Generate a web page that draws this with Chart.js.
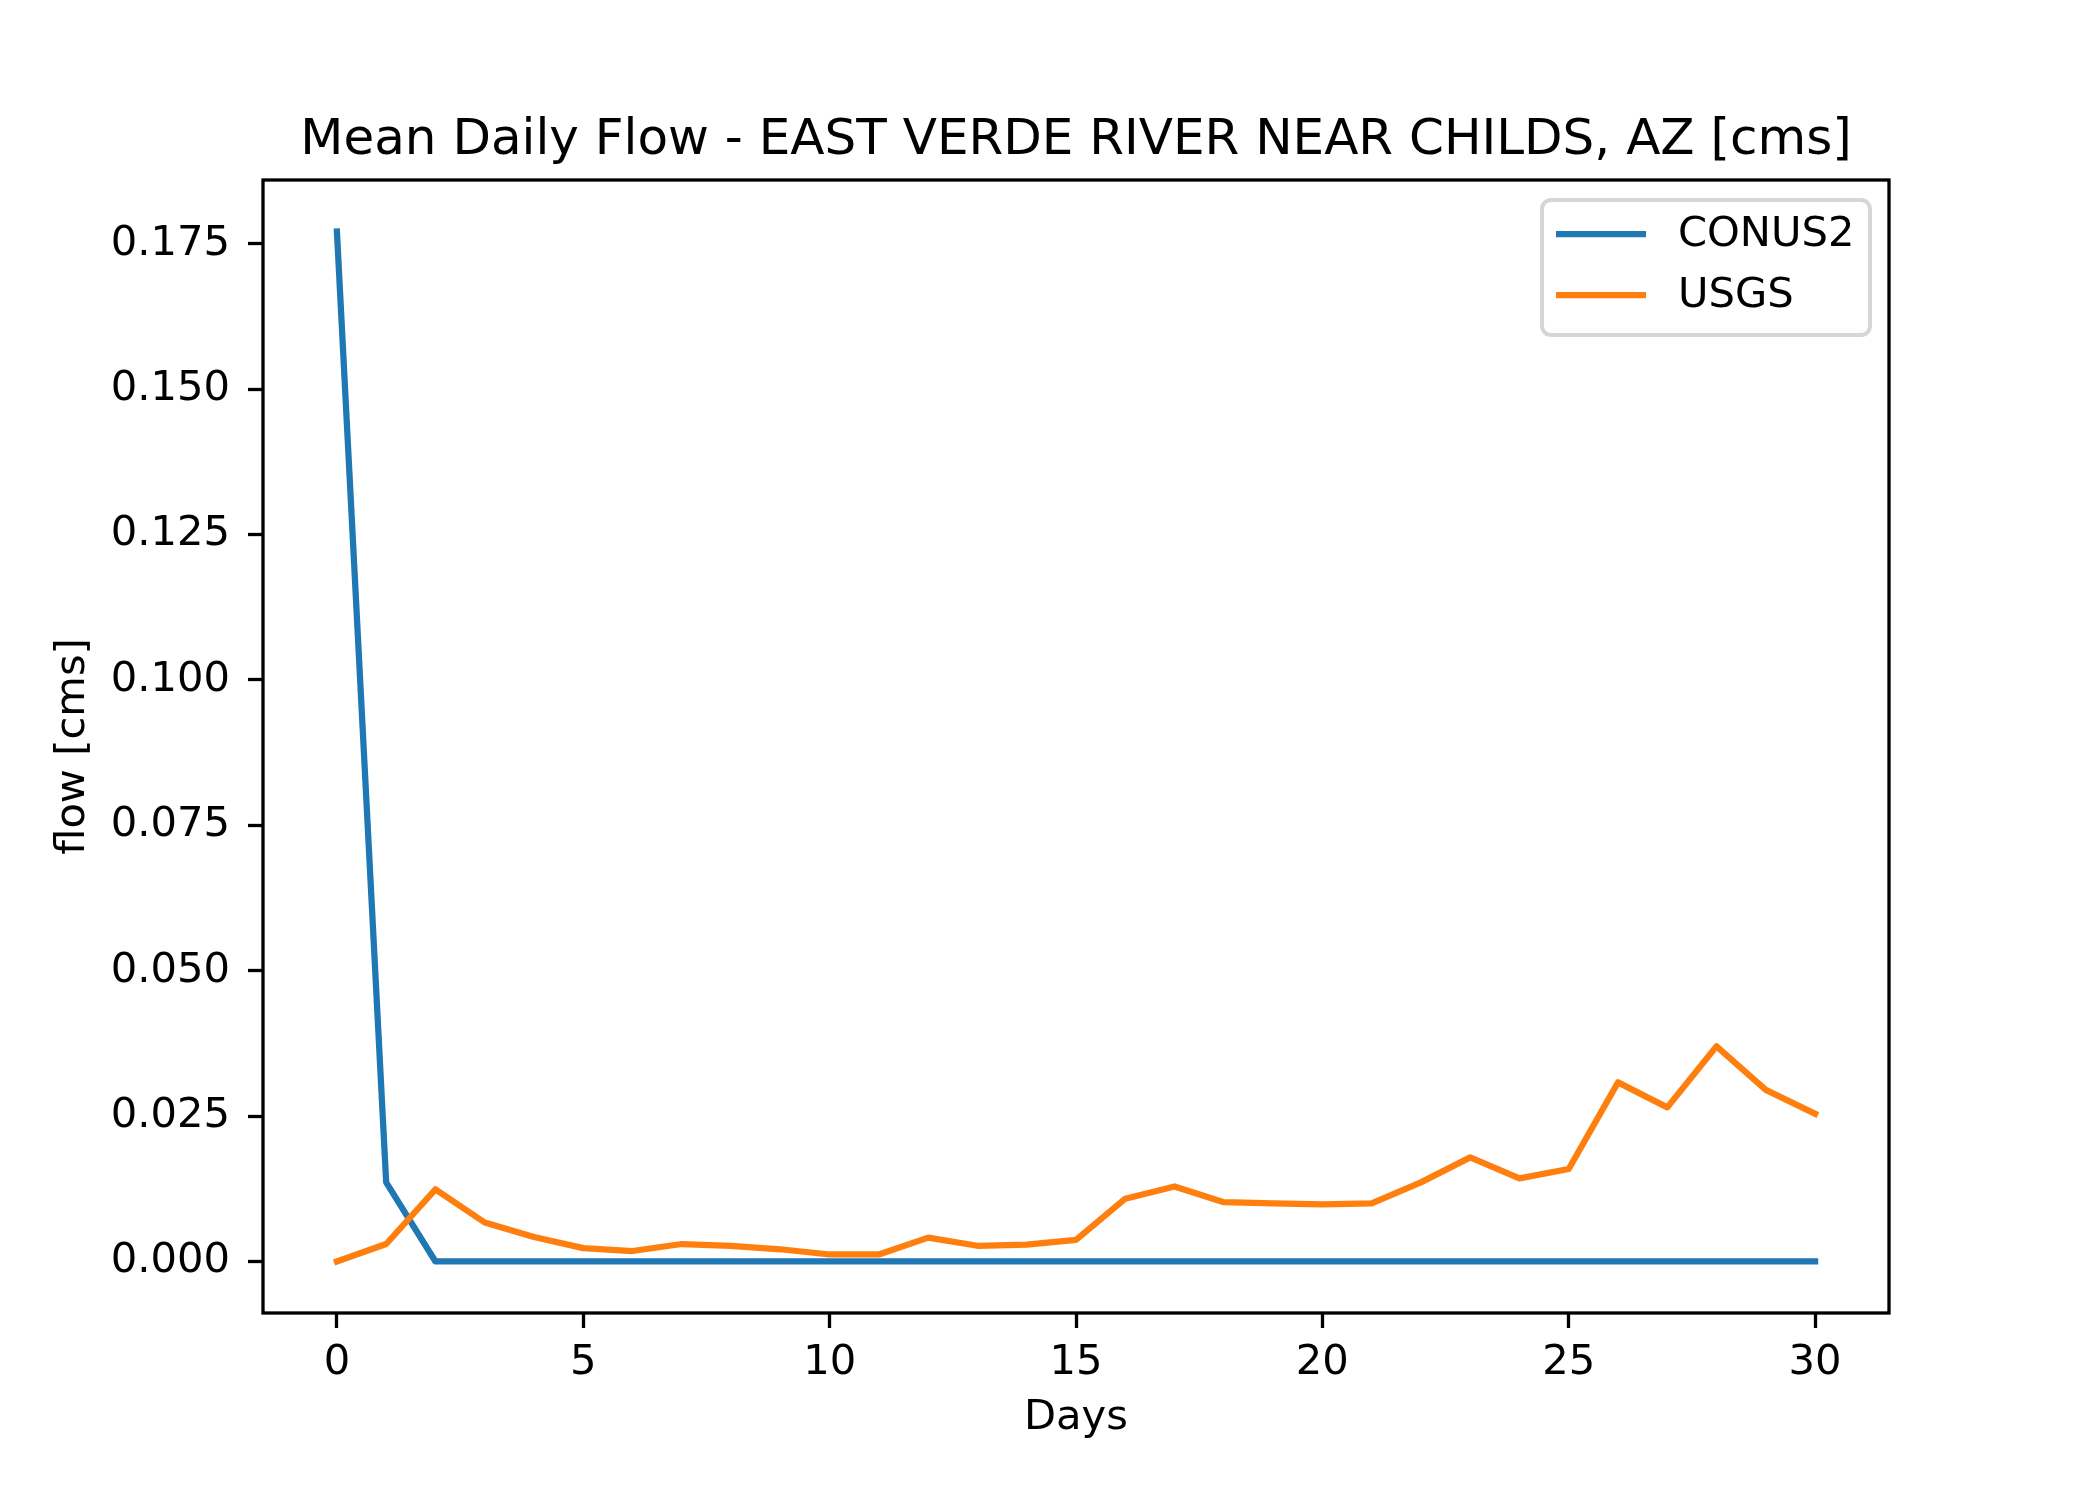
<!DOCTYPE html>
<html>
<head>
<meta charset="utf-8">
<script src="https://cdn.jsdelivr.net/npm/chart.js@4"></script>
<style>
  html, body { margin: 0; padding: 0; background: #fff; }
  #wrap { width: 2100px; height: 1500px; }
</style>
</head>
<body>
<div id="wrap"><canvas id="myChart1" width="2100" height="1500"></canvas></div>
<script>
// values
var days = [0, 1, 2, 3, 4, 5, 6, 7, 8, 9, 10, 11, 12, 13, 14, 15, 16, 17, 18, 19, 20, 21, 22, 23, 24, 25, 26, 27, 28, 29, 30];
var conus2 = [0.1771, 0.0136, 0, 0, 0, 0, 0, 0, 0, 0, 0, 0, 0, 0, 0, 0, 0, 0, 0, 0, 0, 0, 0, 0, 0, 0, 0, 0, 0, 0, 0];
var usgs = [0, 0.0030, 0.0124, 0.0067, 0.0042, 0.0023, 0.0018, 0.0030, 0.0027, 0.0021, 0.0012, 0.0012, 0.0041, 0.0027, 0.0029, 0.0037,
            0.0108, 0.0129, 0.0102, 0.0100, 0.0098, 0.0100, 0.0136, 0.0179, 0.0143, 0.0159, 0.0308, 0.0265, 0.0370, 0.0295, 0.0254];
var xTicks = [0, 5, 10, 15, 20, 25, 30];
var yTicks = [0, 0.025, 0.05, 0.075, 0.1, 0.125, 0.15, 0.175];
var yTickLabels = ['0.000', '0.025', '0.050', '0.075', '0.100', '0.125', '0.150', '0.175'];
var seriesNames = ['CONUS2', 'USGS'];
var seriesColors = ['#1f77b4', '#ff7f0e'];

var FONT = "'DejaVu Sans', sans-serif";
var fs = 41.67;

function toPoints(ys) {
    return days.map(function (d, i) { return {x: d, y: ys[i]}; });
}

// box round the plot and the legend in its top right corner
var framePlugin = {
    id: 'frame',
    afterDatasetsDraw: function (chart) {
        var ctx = chart.ctx, a = chart.chartArea;
        ctx.save();
        ctx.strokeStyle = '#000';
        ctx.lineWidth = 3.3;
        ctx.strokeRect(a.left, a.top, a.right - a.left, a.bottom - a.top);

        // legend
        var bx = 1542, by = 200, bw = 328, bh = 135, r = 9;
        ctx.beginPath();
        ctx.moveTo(bx + r, by);
        ctx.arcTo(bx + bw, by, bx + bw, by + bh, r);
        ctx.arcTo(bx + bw, by + bh, bx, by + bh, r);
        ctx.arcTo(bx, by + bh, bx, by, r);
        ctx.arcTo(bx, by, bx + bw, by, r);
        ctx.closePath();
        ctx.fillStyle = 'rgba(255,255,255,0.8)';
        ctx.fill();
        ctx.strokeStyle = 'rgba(204,204,204,0.8)';
        ctx.lineWidth = 4;
        ctx.stroke();

        ctx.font = fs + 'px ' + FONT;
        ctx.textBaseline = 'middle';
        ctx.textAlign = 'left';
        chart.data.datasets.forEach(function (ds, i) {
            var ly = 234 + i * 61;
            ctx.strokeStyle = ds.borderColor;
            ctx.lineWidth = 6.25;
            ctx.lineCap = 'butt';
            ctx.beginPath();
            ctx.moveTo(1556, ly);
            ctx.lineTo(1646, ly);
            ctx.stroke();
            ctx.fillStyle = '#000';
            ctx.fillText(ds.label, 1678, ly + 1);
        });
        ctx.restore();
    }
};

var chart = new Chart("myChart1", {
    type: "line",
    data: {
        datasets: [{
            label: seriesNames[0],
            borderColor: seriesColors[0],
            backgroundColor: 'rgba(0, 0, 0, 0)',
            data: toPoints(conus2),
            order: 1
        }, {
            label: seriesNames[1],
            borderColor: seriesColors[1],
            backgroundColor: 'rgba(0, 0, 0, 0)',
            data: toPoints(usgs),
            order: 0
        }]
    },
    options: {
        responsive: false,
        animation: false,
        devicePixelRatio: 1,
        elements: {
            point: { radius: 0, hoverRadius: 0 },
            line: { borderWidth: 6.25, tension: 0, borderCapStyle: 'square', borderJoinStyle: 'round', fill: false }
        },
        layout: { padding: { top: 0, right: 211, bottom: 0, left: 0 } },
        plugins: {
            legend: { display: false },
            tooltip: { enabled: false },
            title: {
                display: true,
                fullSize: false,
                text: 'Mean Daily Flow - EAST VERDE RIVER NEAR CHILDS, AZ [cms]',
                color: '#000',
                font: { family: FONT, size: 50, weight: 'normal', lineHeight: 1.2 },
                padding: { top: 111, bottom: 9 }
            }
        },
        scales: {
            x: {
                type: 'linear',
                min: -1.5,
                max: 31.5,
                afterBuildTicks: function (s) { s.ticks = xTicks.map(function (v) { return {value: v}; }); },
                afterFit: function (s) { s.height = 187; },
                grid: { drawOnChartArea: false, drawTicks: true, tickLength: 15, tickWidth: 3.3, tickColor: '#000' },
                border: { display: false },
                ticks: {
                    color: '#000',
                    font: { family: FONT, size: fs },
                    padding: 10,
                    maxRotation: 0,
                    autoSkip: false,
                    callback: function (v) { return String(v); }
                },
                title: {
                    display: true,
                    text: 'Days',
                    color: '#000',
                    font: { family: FONT, size: fs, lineHeight: 1.2 },
                    padding: { top: 0, bottom: 57 }
                }
            },
            y: {
                type: 'linear',
                min: -0.00886,
                max: 0.18596,
                afterBuildTicks: function (s) { s.ticks = yTicks.map(function (v) { return {value: v}; }); },
                afterFit: function (s) { s.width = 263; },
                grid: { drawOnChartArea: false, drawTicks: true, tickLength: 15, tickWidth: 3.3, tickColor: '#000' },
                border: { display: false },
                ticks: {
                    color: '#000',
                    font: { family: FONT, size: fs },
                    padding: 18,
                    autoSkip: false,
                    callback: function (v) {
                        var i = yTicks.indexOf(v);
                        return i >= 0 ? yTickLabels[i] : '';
                    }
                },
                title: {
                    display: true,
                    text: 'flow [cms]',
                    color: '#000',
                    font: { family: FONT, size: fs, lineHeight: 1.2 },
                    padding: { top: 48, bottom: 0 }
                }
            }
        }
    },
    plugins: [framePlugin]
});
</script>
</body>
</html>
